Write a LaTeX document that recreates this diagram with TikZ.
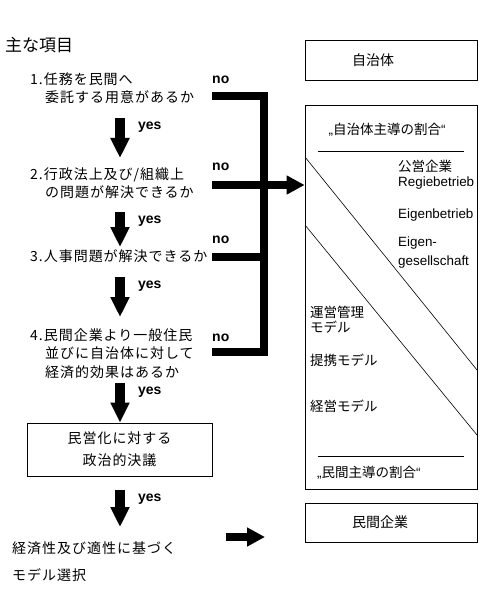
\documentclass[tikz,border=0pt]{standalone}
\usepackage{fontspec}
\setmainfont{Liberation Sans}
\newfontfamily\jpfont[LetterSpace=7]{Noto Sans CJK JP}
\newfontfamily\jpplain{Noto Sans CJK JP}
\usetikzlibrary{arrows.meta}

\tikzset{
  frage/.style={anchor=base west,inner sep=0pt,align=left,font=\jpfont\fontsize{14pt}{18pt}\selectfont},
  ja/.style={anchor=west,inner sep=0pt,xshift=13pt,yshift=-9pt,font=\bfseries\fontsize{14pt}{16pt}\selectfont},
  nein/.style={anchor=base west,inner sep=0pt,font=\bfseries\fontsize{14pt}{16pt}\selectfont},
  dickpfeil/.style={line width=10pt,-{Triangle[width=18pt,length=20pt]}},
  balken/.style={line width=8pt,miter limit=10},
  balkenpfeil/.style={line width=8pt,-{Triangle[width=18pt,length=18pt]}},
  kasten/.style={draw,line width=.8pt,minimum width=172pt,minimum height=40pt,inner xsep=47pt,text width=78pt,align=left,font=\jpplain\fontsize{14pt}{16pt}\selectfont},
  eintrag/.style={anchor=west,inner sep=0pt,align=left,font=\jpplain\fontsize{13.5pt}{15pt}\selectfont},
  latein/.style={anchor=west,inner sep=0pt,align=left,font=\fontsize{13.4pt}{19pt}\selectfont},
}

\begin{document}
\begin{tikzpicture}[x=1pt,y=-1pt]
\useasboundingbox (0,0) rectangle (484,596);

\node[anchor=west,inner sep=0pt,font=\jpplain\fontsize{17pt}{20pt}\selectfont] (titel) at (5,45) {主な項目};

% Fragen links
\node[frage] (q1) at (30,103) {1.任務を民間へ\\\hspace*{15pt}委託する用意があるか};
\node[frage] (q2) at (30,197) {2.行政法上及び/組織上\\\hspace*{15pt}の問題が解決できるか};
\node[frage] (q3) at (30,261) {3.人事問題が解決できるか};
\node[frage,font=\jpfont\fontsize{14pt}{18.5pt}\selectfont] (q4) at (30,377) {4.民間企業より一般住民\\\hspace*{15pt}並びに自治体に対して\\\hspace*{15pt}経済的効果はあるか};
\node[draw,line width=.8pt,minimum width=185pt,minimum height=53pt,align=center,
  font=\jpfont\fontsize{14pt}{22pt}\selectfont] (beschluss) at (119.5,449.5) {民営化に対する\\政治的決議};
\node[frage,font=\jpfont\fontsize{14pt}{27pt}\selectfont] (wahl) at (12,580) {経済性及び適性に基づく\\モデル選択};

% yes
\coordinate (ax) at (120,0);
\draw[dickpfeil] ([yshift=-15pt]q1.base -| ax) -- node[ja,at start]{yes} ([yshift=39pt]q2.base -| ax);
\draw[dickpfeil] ([yshift=-15pt]q2.base -| ax) -- node[ja,at start]{yes} ([yshift=14pt]q3.base -| ax);
\draw[dickpfeil] ([yshift=-16pt]q3.base -| ax) -- node[ja,at start]{yes} ([yshift=60pt]q4.base -| ax);
\draw[dickpfeil] ([yshift=-6pt]q4.base -| ax) -- node[ja,at start]{yes} (beschluss.north -| ax);
\draw[dickpfeil] ([yshift=-14pt]beschluss.south -| ax) -- node[ja,at start]{yes} ([yshift=53pt]wahl.base -| ax);

% rechte Seite
\node[kasten] (kommune) at (391,60) {自治体};
\node[kasten,minimum height=39pt] (privat) at (391,522.5) {民間企業};
\node[draw,line width=.8pt,minimum width=172pt,minimum height=384pt] (anteil) at (391,297) {};

\draw[line width=.8pt] (318,151) -- (464,151);
\draw[line width=.8pt] (318,456) -- (464,456);
\draw[line width=.6pt] (305,157) -- (477,370);
\draw[line width=.6pt] (305,225) -- (477,435);

\node[eintrag,anchor=center] (oben) at (387,130) {\rmfamily„\jpplain 自治体主導の割合\rmfamily“};
\node[eintrag] (kue) at (398,166) {公営企業};
\node[latein] (regie) at (398,183) {Regiebetrieb};
\node[latein] (eigen) at (398,215) {Eigenbetrieb};
\node[latein] (eigges) at (398,252.5) {Eigen-\\gesellschaft};
\node[eintrag] (betrieb) at (310,319.5) {運営管理\\モデル};
\node[eintrag] (koop) at (310,360) {提携モデル};
\node[eintrag] (betreib) at (310,406) {経営モデル};
\node[eintrag] (unten) at (317,473) {\rmfamily„\jpplain 民間主導の割合\rmfamily“};

% no
\coordinate (bus) at (264,0);
\coordinate (n1) at (212,96);
\coordinate (n2) at (212,185);
\coordinate (n3) at (212,257);
\coordinate (n4) at (212,352);
\draw[balken] (n1) -- (n1 -| bus) -- (n4 -| bus) -- (n4);
\draw[balken] (n3) -- (n3 -| bus);
\draw[balkenpfeil] (n2) -- (n2 -| anteil.west);
\node[nein] at ([yshift=12pt]n1) {no};
\node[nein] at ([yshift=14.4pt]n2) {no};
\node[nein] at ([yshift=13.4pt]n3) {no};
\node[nein] at ([yshift=10.4pt]n4) {no};

\coordinate (p1) at (226,537);
\coordinate (p2) at (265,537);
\draw[balkenpfeil] (p1) -- (p2);
\end{tikzpicture}
\end{document}
